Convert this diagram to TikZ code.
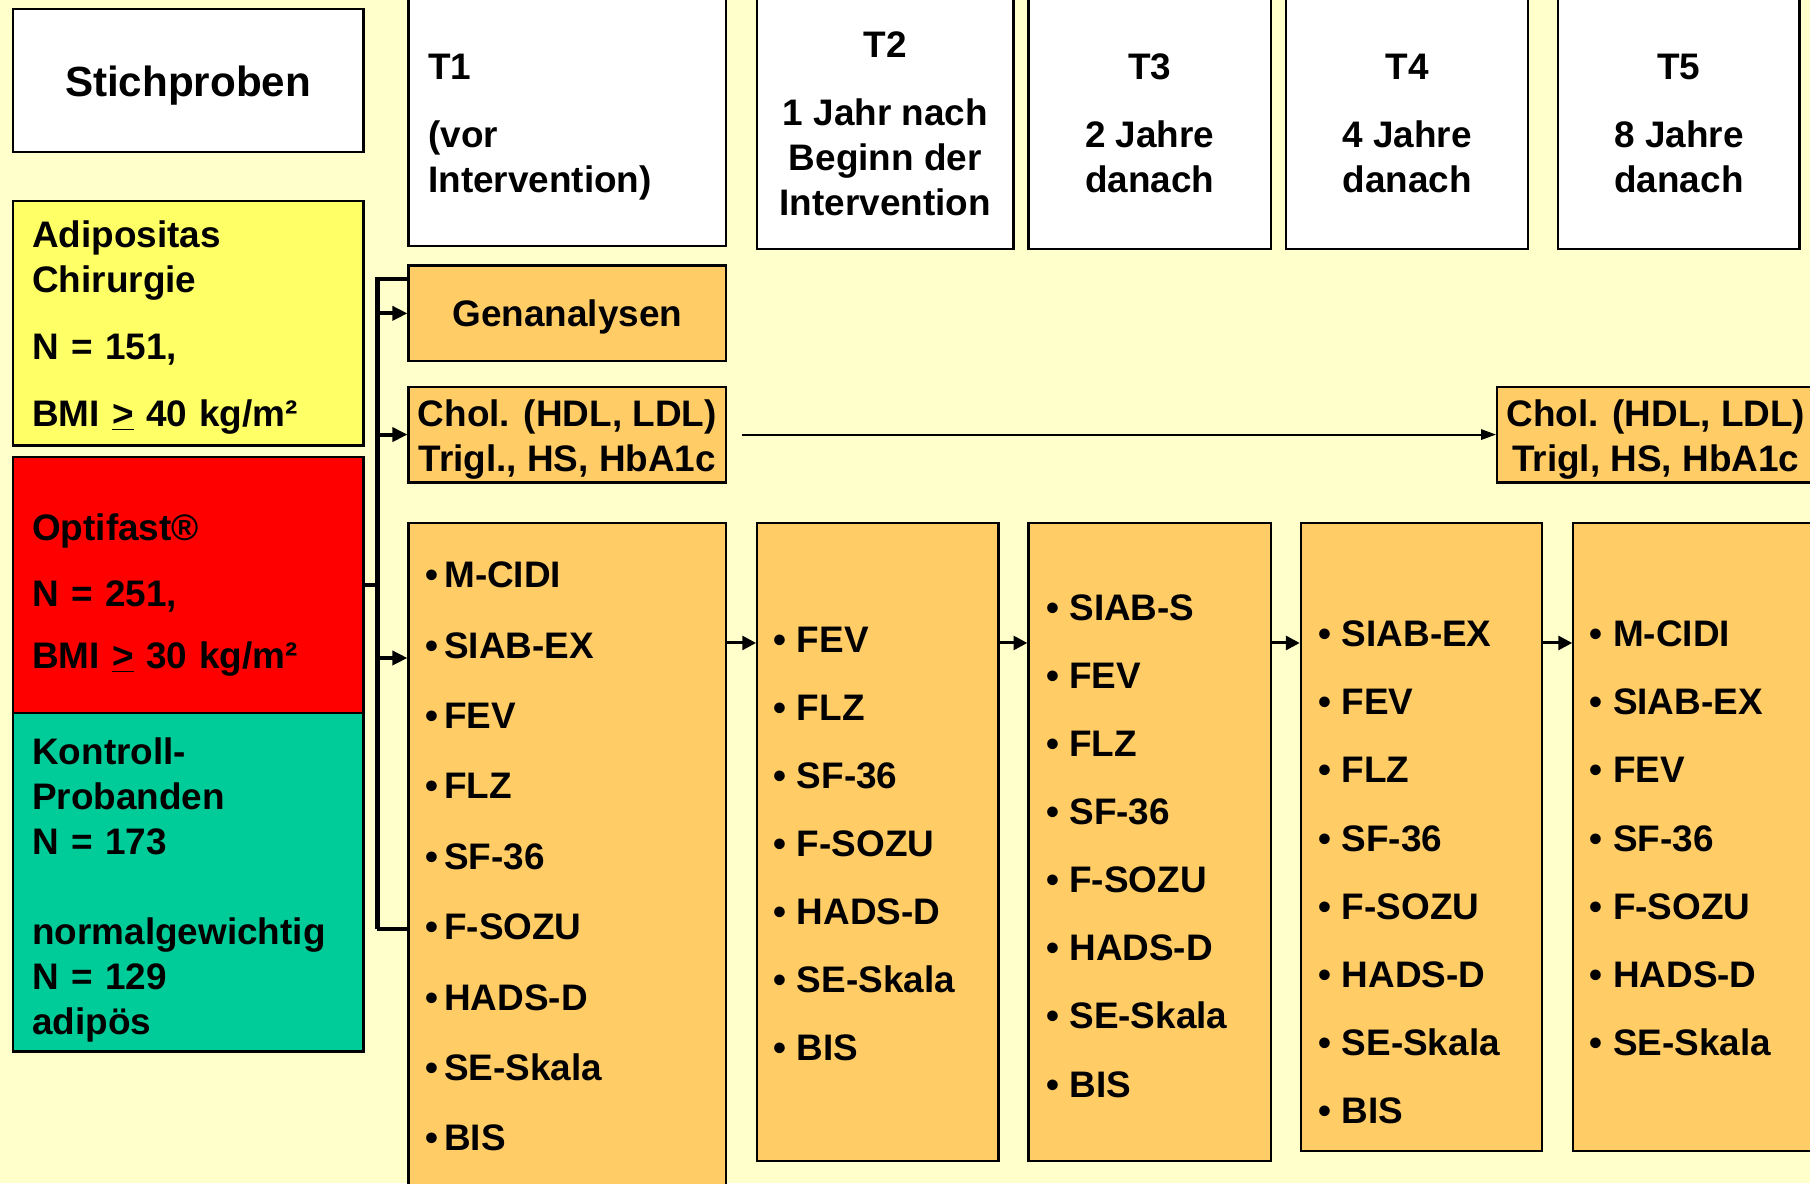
\documentclass[tikz,border=0pt]{standalone}
\usepackage{fontspec}
\setmainfont{Liberation Sans}
\usetikzlibrary{arrows.meta}
\definecolor{hgrund}{HTML}{FFFFCC}
\definecolor{gelb}{HTML}{FFFF66}
\definecolor{rot}{HTML}{FF0000}
\definecolor{gruen}{HTML}{00CC99}
\definecolor{kastenorange}{HTML}{FFCC66}
% Stütze für die erste Zeile
\newcommand{\hoch}[1]{\rule{0pt}{#1}}
\begin{document}
\begin{tikzpicture}[x=0.02cm, y=-0.02cm,
    kasten/.style={draw=black, line width=1.1pt, inner sep=0pt, anchor=north west,
        font=\bfseries\fontsize{18.2}{22.2}\selectfont},
    liste/.style={anchor=north west, inner sep=0pt, align=left,
        font=\bfseries\fontsize{18.2}{33.6}\selectfont},
    stamm/.style={line width=2pt},
    pfeil/.style={line width=2pt, -{Triangle[length=0.26cm, width=0.24cm]}},
    zwpfeil/.style={line width=1.5pt, -{Triangle[length=0.24cm, width=0.24cm]}},
    duennpfeil/.style={line width=1pt, -{Triangle[length=0.26cm, width=0.18cm]}}]
        % Фон
        \fill[hgrund] (0,0) rectangle (1568,1025);
        \useasboundingbox (0,0) rectangle (1568,1025);

        % Шапка: Stichproben и T1 ... T5
        \node[kasten, fill=white, minimum width=6.08cm, minimum height=2.48cm, text depth=0pt,
            font=\bfseries\fontsize{20.8}{25}\selectfont] (stich) at (10,7) {Stichproben};
        \node[kasten, fill=white, text width=4.82cm, inner xsep=0.34cm, minimum height=4.3cm, align=left] (t1) at (353,-3) {\hoch{0.62cm}T1\\[0.4cm](vor\\Intervention)};
        \node[kasten, fill=white, minimum width=4.44cm, minimum height=4.36cm, align=center] (t2) at (655,-3) {T2\\[0.4cm]1 Jahr nach\\Beginn der\\Intervention};
        \node[kasten, fill=white, minimum width=4.2cm, minimum height=4.36cm, align=center] (t3) at (890,-3) {T3\\[0.4cm]2 Jahre\\danach};
        \node[kasten, fill=white, minimum width=4.2cm, minimum height=4.36cm, align=center] (t4) at (1113,-3) {T4\\[0.4cm]4 Jahre\\danach};
        \node[kasten, fill=white, minimum width=4.18cm, minimum height=4.36cm, align=center] (t5) at (1349,-3) {T5\\[0.4cm]8 Jahre\\danach};

        % Группы слева
        \node[kasten, fill=gelb, text width=5.4cm, inner xsep=0.34cm, minimum height=4.24cm, align=left] (adip) at (10,173) {\hoch{0.63cm}Adipositas\\Chirurgie\\[0.38cm]N = 151,\\[0.38cm]BMI \underline{>} 40 kg/m²};
        \node[kasten, fill=rot, text width=5.4cm, inner xsep=0.34cm, minimum height=4.44cm, align=left] (opti) at (10,395) {\hoch{0.79cm}Optifast®\\[0.38cm]N = 251,\\[0.28cm]BMI \underline{>} 30 kg/m²};
        \node[kasten, fill=gruen, text width=5.4cm, inner xsep=0.34cm, minimum height=5.86cm, align=left] (kont) at (10,617) {\hoch{0.71cm}Kontroll-\\Probanden\\N = 173\\[0.78cm]normalgewichtig\\N = 129\\adipös};

        % Labor
        \node[kasten, fill=kastenorange, minimum width=5.5cm, minimum height=1.66cm, text depth=0pt] (gen) at (353,229) {Genanalysen};
        \node[kasten, fill=kastenorange, minimum width=5.5cm, minimum height=1.66cm, align=center] (chol1) at (353,334) {\hoch{0.63cm}Chol. (HDL, LDL)\\Trigl., HS, HbA1c};
        \node[kasten, fill=kastenorange, minimum width=5.5cm, minimum height=1.66cm, align=center] (chol2) at (1296,334) {\hoch{0.63cm}Chol. (HDL, LDL)\\Trigl, HS, HbA1c};

        % Fragebögen: рамки
        \node[kasten, fill=kastenorange, minimum width=5.5cm, minimum height=11.76cm] (l1) at (353,452) {};
        \node[kasten, fill=kastenorange, minimum width=4.18cm, minimum height=11.06cm] (l2) at (655,452) {};
        \node[kasten, fill=kastenorange, minimum width=4.2cm, minimum height=11.06cm] (l3) at (890,452) {};
        \node[kasten, fill=kastenorange, minimum width=4.18cm, minimum height=10.88cm] (l4) at (1126,452) {};
        \node[kasten, fill=kastenorange, minimum width=4.26cm, minimum height=10.88cm] (l5) at (1362,452) {};

        % Fragebögen: списки
        \node[liste, font=\bfseries\fontsize{18.2}{34.7}\selectfont] (l1txt) at (368,486.5) {•\,M-CIDI\\•\,SIAB-EX\\•\,FEV\\•\,FLZ\\•\,SF-36\\•\,F-SOZU\\•\,HADS-D\\•\,SE-Skala\\•\,BIS};
        \node[liste] (l2txt) at (670,542.5) {• FEV\\• FLZ\\• SF-36\\• F-SOZU\\• HADS-D\\• SE-Skala\\• BIS};
        \node[liste] (l3txt) at (906,514.5) {• SIAB-S\\• FEV\\• FLZ\\• SF-36\\• F-SOZU\\• HADS-D\\• SE-Skala\\• BIS};
        \node[liste] (l4txt) at (1142,537.5) {• SIAB-EX\\• FEV\\• FLZ\\• SF-36\\• F-SOZU\\• HADS-D\\• SE-Skala\\• BIS};
        \node[liste] (l5txt) at (1377,537.5) {• M-CIDI\\• SIAB-EX\\• FEV\\• SF-36\\• F-SOZU\\• HADS-D\\• SE-Skala};

        % Скобка слева
        \coordinate (sTop) at (327,242);
        \coordinate (sBot) at (327,805);
        \coordinate (inY) at (0,570);
        \coordinate (rowY) at (0,557);
        \draw[stamm] (sBot) -- (sTop) -- (gen.west |- sTop);
        \draw[stamm] (opti.east) -- (opti.east -| sTop);
        \draw[stamm] (sBot) -- (l1.west |- sBot);
        \draw[pfeil] (gen.west -| sTop) -- (gen.west);
        \draw[pfeil] (chol1.west -| sTop) -- (chol1.west);
        \draw[pfeil] (sTop |- inY) -- (l1.west |- inY);

        % Стрелки между временными точками
        \draw[duennpfeil] ([xshift=0.26cm]chol1.east) -- (chol2.west);
        \draw[zwpfeil] (l1.east |- rowY) -- (l2.west |- rowY);
        \draw[zwpfeil] (l2.east |- rowY) -- (l3.west |- rowY);
        \draw[zwpfeil] (l3.east |- rowY) -- (l4.west |- rowY);
        \draw[zwpfeil] (l4.east |- rowY) -- (l5.west |- rowY);
\end{tikzpicture}
\end{document}
